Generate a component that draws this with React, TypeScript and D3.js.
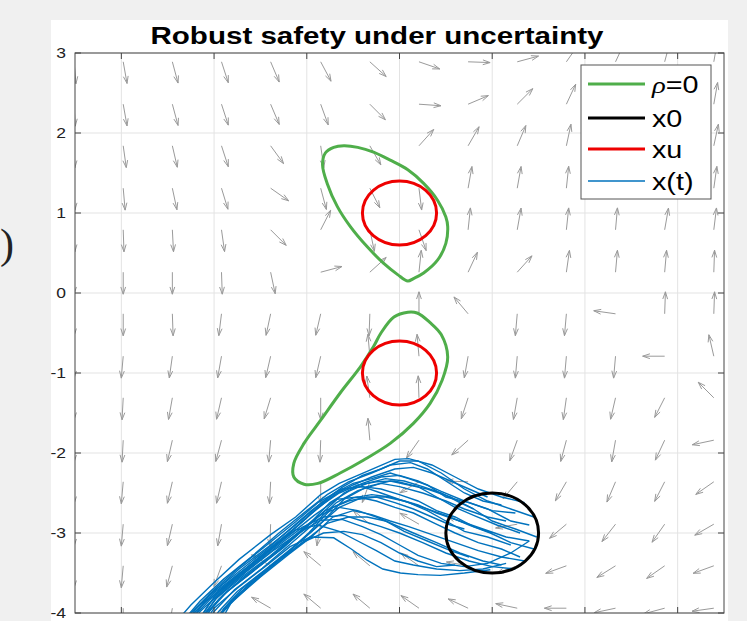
import React from 'react';
import * as d3 from 'd3';

const W = 747;
const H = 621;

const Y_TICKS = [-4, -3, -2, -1, 0, 1, 2, 3];
const X_TICKS = [-3, -2, -1, 0, 1, 2, 3];

// quiver grid (tails) and arrow directions, degrees counter-clockwise from east
const QX = [-3.51, -2.98, -2.45, -1.92, -1.39, -0.85, -0.32, 0.21, 0.74, 1.27, 1.8, 2.33, 2.86, 3.39];
const QY = [2.89, 2.36, 1.84, 1.31, 0.79, 0.26, -0.26, -0.79, -1.31, -1.84, -2.36, -2.89, -3.41, -3.94];
const QANGLE = [
  [-85, -80, -75, -72, -67, -62, -42, -19, -2, 15, 55, 65, 75, 80],
  [-87, -80, -75, -72, -67, -70, -45, -4, 23, 45, 65, 70, 75, 80],
  [-88, -82, -77, -72, -54, -82, -60, 48, 60, 67, 78, 78, 78, 78],
  [-88, -85, -78, -73, -35, -75, -63, -83, 80, 80, 84, 82, 82, 82],
  [-88, -88, -87, -82, -45, 63, -78, -71, 84, 80, 84, 85, 80, 83],
  [-90, -90, -90, -88, -78, 15, 42, 84, 65, 48, 82, 85, 85, 88],
  [-90, -90, -88, -97, -102, -103, -92, 90, 130, -95, -95, 172, 88, 88],
  [-90, -95, -98, -100, -103, -103, 95, 95, -100, -95, -95, -95, 180, 103],
  [-90, -93, -100, -103, -107, -90, 98, 92, -108, -100, -98, -103, -117, 135],
  [-90, -93, -103, -105, -95, -92, 95, -125, -138, -110, -105, -100, -115, -168],
  [-90, -95, -103, -103, -93, -90, -110, -150, 178, -130, -120, -113, -117, -145],
  [-90, -95, -103, -100, -92, -100, 140, 150, 160, -170, -140, -128, -125, -150],
  [-90, -95, -105, -110, 150, 140, 140, 145, 170, -160, -160, -148, -145, -160],
  [-90, -90, -100, -110, 150, 140, 140, 145, 155, 168, 180, -168, -165, -172],
];

// unsafe sets xu and initial set x0
const XU_CENTERS: [number, number][] = [[0, 1], [0, -1]];
const XU_RADIUS = 0.4;
const X0_CENTER: [number, number] = [1, -3];
const X0_RADIUS = 0.5;

// rho = 0 level sets
const RHO_UPPER: [number, number][] = [
  [-0.8, 1.75], [-0.71, 1.82], [-0.6, 1.84], [-0.45, 1.82], [-0.28, 1.76], [-0.1, 1.66],
  [0.09, 1.54], [0.26, 1.37], [0.41, 1.16], [0.5, 0.95], [0.52, 0.83], [0.5, 0.62],
  [0.41, 0.41], [0.26, 0.25], [0.15, 0.18], [0.09, 0.15], [-0.02, 0.23], [-0.17, 0.37],
  [-0.35, 0.58], [-0.53, 0.83], [-0.67, 1.08], [-0.78, 1.37], [-0.83, 1.6],
];
const RHO_LOWER: [number, number][] = [
  [0.09, -0.24], [0.19, -0.25], [0.33, -0.37], [0.45, -0.52], [0.52, -0.8], [0.46, -1.09],
  [0.33, -1.38], [0.15, -1.63], [-0.1, -1.88], [-0.39, -2.09], [-0.64, -2.25], [-0.88, -2.38],
  [-1.03, -2.39], [-1.14, -2.3], [-1.14, -2.13], [-1.03, -1.88], [-0.85, -1.59], [-0.64, -1.25],
  [-0.42, -0.92], [-0.28, -0.67], [-0.2, -0.5], [-0.06, -0.3],
];

// sampled trajectories x(t)
const TRAJECTORIES: [number, number][][] = [
  [[1.35, -2.62], [1.1, -2.55], [0.85, -2.45], [0.6, -2.3], [0.35, -2.15], [0.1, -2.07], [-0.05, -2.08], [-0.25, -2.18], [-0.45, -2.28], [-0.65, -2.38], [-0.85, -2.52], [-1.12, -2.8], [-1.39, -3.02], [-1.73, -3.33], [-2.0, -3.62], [-2.25, -3.9], [-2.4, -4.1]],
  [[1.45, -2.8], [1.2, -2.7], [0.95, -2.6], [0.7, -2.45], [0.45, -2.25], [0.2, -2.1], [0.0, -2.1], [-0.2, -2.2], [-0.4, -2.28], [-0.62, -2.43], [-0.85, -2.63], [-1.12, -2.9], [-1.39, -3.15], [-1.73, -3.45], [-2.0, -3.73], [-2.2, -3.95], [-2.3, -4.12]],
  [[1.1, -2.65], [0.9, -2.6], [0.7, -2.5], [0.5, -2.35], [0.3, -2.2], [0.12, -2.12], [-0.1, -2.15], [-0.3, -2.25], [-0.55, -2.36], [-0.78, -2.52], [-1.0, -2.72], [-1.3, -3.0], [-1.6, -3.3], [-1.9, -3.58], [-2.15, -3.85], [-2.35, -4.12]],
  [[0.95, -2.55], [0.75, -2.45], [0.55, -2.35], [0.35, -2.25], [0.15, -2.18], [-0.05, -2.2], [-0.3, -2.3], [-0.5, -2.4], [-0.7, -2.52], [-0.95, -2.76], [-1.2, -3.02], [-1.5, -3.32], [-1.8, -3.6], [-2.05, -3.88], [-2.2, -4.15]],
  [[1.4, -2.9], [1.2, -2.85], [0.95, -2.7], [0.7, -2.6], [0.45, -2.48], [0.2, -2.35], [0.0, -2.28], [-0.2, -2.3], [-0.4, -2.38], [-0.6, -2.5], [-0.85, -2.77], [-1.1, -3.02], [-1.4, -3.3], [-1.7, -3.57], [-1.95, -3.83], [-2.1, -4.05], [-2.15, -4.15]],
  [[1.25, -2.75], [1.0, -2.72], [0.75, -2.62], [0.5, -2.55], [0.3, -2.4], [0.1, -2.32], [-0.1, -2.25], [-0.3, -2.32], [-0.5, -2.38], [-0.7, -2.5], [-0.95, -2.72], [-1.2, -2.97], [-1.45, -3.22], [-1.75, -3.5], [-2.05, -3.77], [-2.25, -4.1]],
  [[0.8, -2.7], [0.65, -2.62], [0.45, -2.5], [0.25, -2.42], [0.05, -2.35], [-0.15, -2.32], [-0.35, -2.38], [-0.55, -2.48], [-0.75, -2.62], [-1.0, -2.92], [-1.25, -3.18], [-1.55, -3.45], [-1.85, -3.72], [-2.05, -3.98], [-2.12, -4.15]],
  [[1.3, -3.0], [1.05, -2.9], [0.8, -2.78], [0.6, -2.68], [0.4, -2.55], [0.2, -2.42], [-0.05, -2.35], [-0.25, -2.36], [-0.45, -2.4], [-0.65, -2.5], [-0.9, -2.7], [-1.15, -2.96], [-1.45, -3.26], [-1.75, -3.53], [-2.0, -3.8], [-2.2, -4.15]],
  [[1.48, -3.05], [1.25, -2.95], [1.0, -2.85], [0.8, -2.7], [0.55, -2.55], [0.3, -2.45], [0.1, -2.4], [-0.1, -2.35], [-0.35, -2.42], [-0.6, -2.58], [-0.85, -2.88], [-1.1, -3.14], [-1.4, -3.42], [-1.7, -3.7], [-1.9, -3.95], [-2.0, -4.15]],
  [[1.15, -2.85], [0.95, -2.8], [0.7, -2.7], [0.5, -2.6], [0.25, -2.5], [0.0, -2.42], [-0.2, -2.38], [-0.45, -2.47], [-0.68, -2.62], [-0.92, -2.88], [-1.18, -3.14], [-1.48, -3.44], [-1.78, -3.71], [-2.0, -3.98], [-2.08, -4.15]],
  [[1.4, -3.1], [1.15, -3.05], [0.9, -2.95], [0.65, -2.85], [0.4, -2.75], [0.2, -2.65], [0.0, -2.58], [-0.2, -2.5], [-0.4, -2.42], [-0.62, -2.45], [-0.88, -2.62], [-1.12, -2.86], [-1.42, -3.14], [-1.72, -3.42], [-2.0, -3.71], [-2.25, -4.0], [-2.35, -4.15]],
  [[1.2, -3.15], [0.95, -3.05], [0.7, -2.98], [0.5, -2.85], [0.3, -2.72], [0.1, -2.62], [-0.1, -2.55], [-0.3, -2.52], [-0.5, -2.56], [-0.72, -2.68], [-0.98, -3.0], [-1.25, -3.29], [-1.55, -3.56], [-1.8, -3.84], [-1.98, -4.08], [-2.02, -4.15]],
  [[1.0, -3.0], [0.8, -2.92], [0.6, -2.8], [0.4, -2.72], [0.2, -2.6], [0.0, -2.52], [-0.2, -2.45], [-0.4, -2.42], [-0.6, -2.45], [-0.82, -2.62], [-1.08, -2.89], [-1.35, -3.14], [-1.65, -3.44], [-1.95, -3.72], [-2.2, -4.02], [-2.28, -4.15]],
  [[1.45, -3.2], [1.2, -3.12], [0.98, -3.0], [0.75, -2.9], [0.5, -2.78], [0.25, -2.68], [0.05, -2.6], [-0.15, -2.55], [-0.35, -2.55], [-0.55, -2.6], [-0.8, -2.72], [-1.05, -2.97], [-1.3, -3.22], [-1.6, -3.5], [-1.9, -3.77], [-2.1, -4.02], [-2.18, -4.15]],
  [[0.7, -2.95], [0.55, -2.9], [0.35, -2.8], [0.15, -2.7], [-0.05, -2.62], [-0.25, -2.55], [-0.45, -2.58], [-0.65, -2.68], [-0.9, -2.93], [-1.15, -3.18], [-1.45, -3.46], [-1.75, -3.73], [-1.95, -3.98], [-2.05, -4.15]],
  [[1.3, -3.3], [1.1, -3.2], [0.85, -3.12], [0.6, -3.0], [0.38, -2.88], [0.15, -2.75], [-0.05, -2.68], [-0.25, -2.6], [-0.45, -2.55], [-0.68, -2.58], [-0.92, -2.78], [-1.18, -3.02], [-1.48, -3.3], [-1.78, -3.58], [-2.08, -3.85], [-2.3, -4.1]],
  [[1.35, -3.35], [1.1, -3.3], [0.85, -3.22], [0.6, -3.12], [0.35, -3.02], [0.1, -2.92], [-0.1, -2.85], [-0.3, -2.77], [-0.5, -2.72], [-0.72, -2.8], [-0.95, -3.05], [-1.2, -3.27], [-1.5, -3.55], [-1.78, -3.83], [-1.95, -4.05], [-2.0, -4.15]],
  [[1.1, -3.4], [0.9, -3.35], [0.65, -3.25], [0.4, -3.12], [0.15, -3.0], [-0.05, -2.9], [-0.25, -2.8], [-0.45, -2.72], [-0.65, -2.68], [-0.88, -2.79], [-1.12, -3.02], [-1.4, -3.29], [-1.7, -3.55], [-1.98, -3.82], [-2.18, -4.15]],
  [[0.75, -3.3], [0.55, -3.22], [0.3, -3.1], [0.05, -2.98], [-0.15, -2.85], [-0.35, -2.8], [-0.55, -2.8], [-0.78, -2.88], [-1.0, -3.08], [-1.25, -3.3], [-1.55, -3.58], [-1.82, -3.85], [-1.98, -4.08], [-2.02, -4.15]],
  [[1.25, -3.45], [1.0, -3.42], [0.75, -3.35], [0.5, -3.25], [0.25, -3.12], [0.0, -3.0], [-0.2, -2.92], [-0.4, -2.85], [-0.6, -2.78], [-0.82, -2.8], [-1.05, -2.93], [-1.3, -3.15], [-1.6, -3.43], [-1.9, -3.71], [-2.15, -3.98], [-2.25, -4.15]],
  [[0.98, -3.46], [0.7, -3.5], [0.44, -3.53], [0.2, -3.52], [0.01, -3.5], [-0.18, -3.45], [-0.35, -3.34], [-0.52, -3.2], [-0.71, -3.06], [-0.96, -3.05], [-1.18, -3.17], [-1.45, -3.42], [-1.75, -3.69], [-2.0, -3.94], [-2.12, -4.15]],
  [[1.15, -3.38], [0.9, -3.45], [0.65, -3.47], [0.4, -3.45], [0.15, -3.4], [-0.05, -3.35], [-0.25, -3.22], [-0.45, -3.1], [-0.65, -2.98], [-0.88, -2.9], [-1.12, -2.96], [-1.38, -3.18], [-1.68, -3.46], [-1.98, -3.73], [-2.22, -4.0], [-2.32, -4.15]],
  [[0.6, -3.4], [0.4, -3.42], [0.2, -3.35], [0.0, -3.25], [-0.2, -3.12], [-0.4, -3.02], [-0.6, -2.98], [-0.82, -3.0], [-1.05, -3.12], [-1.3, -3.34], [-1.58, -3.62], [-1.82, -3.88], [-1.95, -4.15]],
  [[1.4, -3.1], [1.2, -3.25], [0.95, -3.38], [0.7, -3.42], [0.45, -3.38], [0.2, -3.28], [0.0, -3.15], [-0.2, -3.02], [-0.4, -2.92], [-0.62, -2.83], [-0.85, -2.84], [-1.1, -3.01], [-1.35, -3.21], [-1.65, -3.48], [-1.95, -3.78], [-2.2, -4.15]],
];

const TITLE = 'Robust safety under uncertainty';
const LEGEND_LABELS = ['x0', 'xu', 'x(t)'];

const FONT = '"Liberation Sans", Arial, Helvetica, sans-serif';

export default function App() {
  const left = 75, right = 724, top = 53, bottom = 613;
  const x = d3.scaleLinear().domain([-3.5, 3.5]).range([left, right]);
  const y = d3.scaleLinear().domain([-4, 3]).range([bottom, top]);

  const line = d3.line<[number, number]>().x(d => x(d[0])).y(d => y(d[1]));
  const closed = d3.line<[number, number]>().x(d => x(d[0])).y(d => y(d[1])).curve(d3.curveCatmullRomClosed.alpha(0.5));

  const arrowLen = 22;
  const arrows: string[] = [];
  QY.forEach((qy, j) => {
    QX.forEach((qx, i) => {
      const a = (QANGLE[j][i] * Math.PI) / 180;
      const x0 = x(qx), y0 = y(qy);
      const dx = arrowLen * Math.cos(a), dy = -arrowLen * Math.sin(a);
      const x1 = x0 + dx, y1 = y0 + dy;
      const hx1 = x1 - 0.33 * (dx + 0.33 * dy), hy1 = y1 - 0.33 * (dy - 0.33 * dx);
      const hx2 = x1 - 0.33 * (dx - 0.33 * dy), hy2 = y1 - 0.33 * (dy + 0.33 * dx);
      arrows.push(`M${x0},${y0}L${x1},${y1}M${hx1},${hy1}L${x1},${y1}L${hx2},${hy2}`);
    });
  });

  const sx = 1.25;
  const lgX = 581, lgY = 65, lgW = 130, lgH = 134;
  const lgRows = [84, 118, 149, 181];

  return (
    <svg width={W} height={H} style={{ position: 'absolute', left: 0, top: 0 }}>
      <defs>
        <clipPath id="plot">
          <rect x={left} y={top} width={right - left} height={bottom - top} />
        </clipPath>
      </defs>
      <rect x={0} y={0} width={W} height={H} fill="#f0f0f0" />
      <rect x={51} y={20} width={677} height={H - 20} fill="#ffffff" />
      <text x={0} y={258} fontFamily='"Liberation Serif", serif' fontSize={42} fill="#222">)</text>

      {/* grid */}
      <g stroke="#e3e3e3" strokeWidth={1}>
        {X_TICKS.map(t => <line key={'gx' + t} x1={x(t)} x2={x(t)} y1={top} y2={bottom} />)}
        {Y_TICKS.map(t => <line key={'gy' + t} x1={left} x2={right} y1={y(t)} y2={y(t)} />)}
      </g>

      <g clipPath="url(#plot)">
        <path d={arrows.join('')} fill="none" stroke="#9a9a9a" strokeWidth={1} />
        {TRAJECTORIES.map((tr, k) => (
          <path key={'tr' + k} d={line(tr) || ''} fill="none" stroke="#0072bd" strokeWidth={1.4} />
        ))}
        <path d={closed(RHO_UPPER) || ''} fill="none" stroke="#4fae4a" strokeWidth={3} />
        <path d={closed(RHO_LOWER) || ''} fill="none" stroke="#4fae4a" strokeWidth={3} />
        {XU_CENTERS.map((c, k) => (
          <ellipse key={'xu' + k} cx={x(c[0])} cy={y(c[1])} rx={x(c[0] + XU_RADIUS) - x(c[0])}
            ry={y(c[1]) - y(c[1] + XU_RADIUS)} fill="none" stroke="#ee0000" strokeWidth={3} />
        ))}
        <ellipse cx={x(X0_CENTER[0])} cy={y(X0_CENTER[1])} rx={x(X0_CENTER[0] + X0_RADIUS) - x(X0_CENTER[0])}
          ry={y(X0_CENTER[1]) - y(X0_CENTER[1] + X0_RADIUS)} fill="none" stroke="#000" strokeWidth={3} />
      </g>

      {/* axes box and ticks */}
      <rect x={left} y={top} width={right - left} height={bottom - top} fill="none" stroke="#444" strokeWidth={1} />
      <g stroke="#444" strokeWidth={1}>
        {X_TICKS.map(t => (
          <g key={'tx' + t}>
            <line x1={x(t)} x2={x(t)} y1={top} y2={top + 6} />
            <line x1={x(t)} x2={x(t)} y1={bottom} y2={bottom - 6} />
          </g>
        ))}
        {Y_TICKS.map(t => (
          <g key={'ty' + t}>
            <line x1={left} x2={left + 6} y1={y(t)} y2={y(t)} />
            <line x1={right} x2={right - 6} y1={y(t)} y2={y(t)} />
          </g>
        ))}
      </g>
      <g fontFamily={FONT} fontSize={14} fill="#222" textAnchor="end">
        {Y_TICKS.map(t => (
          <text key={'yl' + t} transform={`translate(${left - 9},${y(t) + 5}) scale(${sx},1)`}>{t}</text>
        ))}
      </g>

      <text x={377} y={44} textAnchor="middle" fontFamily={FONT} fontWeight="bold" fontSize={23}
        textLength={453} lengthAdjust="spacingAndGlyphs" fill="#000">{TITLE}</text>

      {/* legend */}
      <rect x={lgX} y={lgY} width={lgW} height={lgH} fill="#fff" stroke="#555" strokeWidth={1} />
      <line x1={588} x2={645} y1={lgRows[0]} y2={lgRows[0]} stroke="#4fae4a" strokeWidth={3} />
      <line x1={588} x2={645} y1={lgRows[1]} y2={lgRows[1]} stroke="#000" strokeWidth={3} />
      <line x1={588} x2={645} y1={lgRows[2]} y2={lgRows[2]} stroke="#ee0000" strokeWidth={3} />
      <line x1={588} x2={645} y1={lgRows[3]} y2={lgRows[3]} stroke="#0072bd" strokeWidth={1.3} />
      <g fontFamily={FONT} fontSize={23} fill="#000">
        <text transform={`translate(652,${lgRows[0] + 9}) scale(${sx},1)`}>
          <tspan fontFamily='"Liberation Serif", serif' fontStyle="italic">ρ</tspan>=0
        </text>
        {LEGEND_LABELS.map((l, k) => (
          <text key={l} transform={`translate(652,${lgRows[k + 1] + 9}) scale(${sx},1)`}>{l}</text>
        ))}
      </g>
    </svg>
  );
}
